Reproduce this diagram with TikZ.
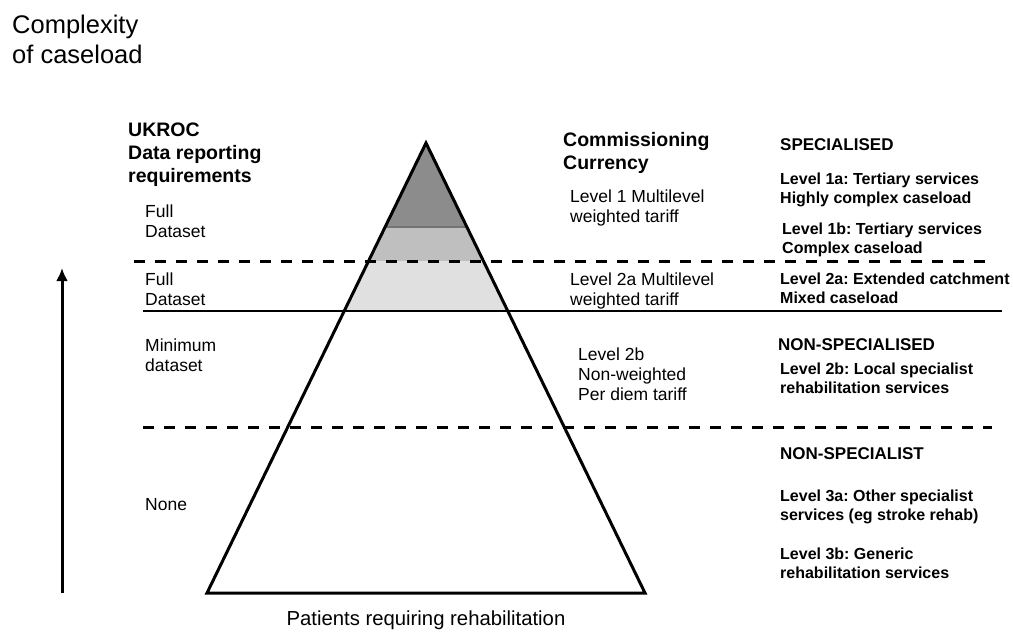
\documentclass[tikz,border=0pt]{standalone}
\usepackage{fontspec}
\setmainfont{Liberation Sans}
\frenchspacing
\usetikzlibrary{arrows,arrows.meta,calc}
\tikzset{>=latex}
\tikzstyle{txt}=[anchor=north west,inner sep=0pt,align=left,font=\fontsize{17.5}{20}\selectfont]
\tikzstyle{head}=[txt,font=\fontsize{19.5}{23}\selectfont\bfseries]
\tikzstyle{cat}=[txt,font=\fontsize{17}{20}\selectfont\bfseries]
\tikzstyle{lvl}=[txt,font=\fontsize{16}{19}\selectfont\bfseries]
\tikzstyle{divider}=[line width=3pt,dash pattern=on 11pt off 10pt]

\begin{document}
\begin{tikzpicture}[x=1pt,y=-1pt]
	\useasboundingbox (0,0) rectangle (1013,632);

	\coordinate (apex) at (426,143);
	\coordinate (bl) at (207,593);
	\coordinate (br) at (645,593);

	% shaded top of the pyramid
	\begin{scope}
		\clip (apex) -- (bl) -- (br) -- cycle;
		\fill[black!45] (300,140) rectangle (550,227);
		\fill[black!25] (300,227) rectangle (550,261);
		\fill[black!12] (300,261) rectangle (550,311);
		\draw[black!55, line width=1.2pt] (300,227) -- (550,227);
	\end{scope}
	\draw[line width=3pt, line join=miter] (apex) -- (bl) -- (br) -- cycle;

	% level boundaries
	\coordinate (d1a) at (134,261);
	\coordinate (d1b) at (992,261);
	\coordinate (s1a) at (143,311);
	\coordinate (s1b) at (1002,311);
	\coordinate (d2a) at (143,427);
	\coordinate (d2b) at (992,427);
	\draw[divider] (d1a) -- (d1b);
	\draw[line width=2.8pt] (s1a) -- (s1b);
	\draw[divider] (d2a) -- (d2b);

	% complexity axis
	\coordinate (arrbot) at (62,593);
	\coordinate (arrtop) at (62,268);
	\draw[-{Latex[length=13pt,width=12pt]}, line width=3pt] (arrbot) -- (arrtop);
	\node[txt, font=\fontsize{25.5}{30}\selectfont] (axis) at (12,15) {Complexity\\of caseload};
	\node[anchor=north, inner sep=0pt, font=\fontsize{20.3}{24}\selectfont] (base) at (426,611) {Patients requiring rehabilitation};

	% data reporting column
	\node[head] (ukroc) at (128,123) {UKROC\\Data reporting\\requirements};
	\node[txt] (full1) at (145,205) {Full\\Dataset};
	\node[txt] (full2) at (145,273) {Full\\Dataset};
	\node[txt] (mini) at (145,339) {Minimum\\dataset};
	\node[txt] (none) at (145,498) {None};

	% currency column
	\node[head] (curr) at (563,132) {Commissioning\\Currency};
	\node[txt] (cur1) at (570,190) {Level 1 Multilevel\\weighted tariff};
	\node[txt] (cur2a) at (570,273) {Level 2a Multilevel\\weighted tariff};
	\node[txt] (cur2b) at (578,348) {Level 2b\\Non-weighted\\Per diem tariff};

	% service levels
	\node[cat] (spec) at (780,138) {SPECIALISED};
	\node[lvl] (l1a) at (780,173) {Level 1a: Tertiary services\\Highly complex caseload};
	\node[lvl] (l1b) at (782,223) {Level 1b: Tertiary services\\Complex caseload};
	\node[lvl] (l2a) at (780,273) {Level 2a: Extended catchment\\Mixed caseload};
	\node[cat] (nonspec) at (778,338) {NON-SPECIALISED};
	\node[lvl] (l2b) at (780,363) {Level 2b: Local specialist\\rehabilitation services};
	\node[cat] (nonsp) at (780,447) {NON-SPECIALIST};
	\node[lvl] (l3a) at (780,490) {Level 3a: Other specialist\\services (eg stroke rehab)};
	\node[lvl] (l3b) at (780,548) {Level 3b: Generic\\rehabilitation services};

\end{tikzpicture}
\end{document}
